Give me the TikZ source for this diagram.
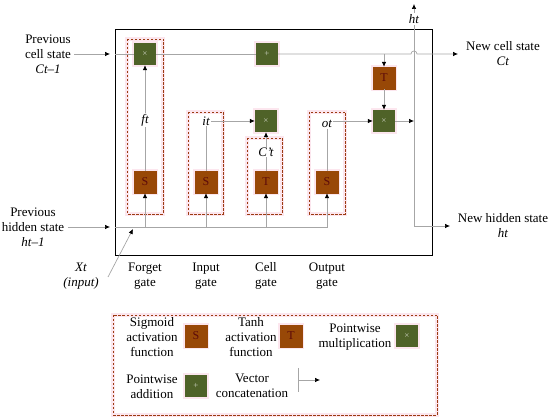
\documentclass[tikz,border=0pt]{standalone}
\usepackage{fontspec}
\setmainfont{Liberation Serif}
\usetikzlibrary{arrows.meta}
\definecolor{ogreen}{HTML}{4F6228}
\definecolor{obrown}{HTML}{984807}
\definecolor{dred}{HTML}{9C3B12}
\definecolor{maroon}{HTML}{5C0A0A}
\definecolor{lgray}{HTML}{A6A6A6}
\definecolor{halo}{HTML}{FCE6EE}
\tikzset{
 mul/.style={fill=ogreen,minimum size=22pt,inner sep=0pt,text=white!70!ogreen,font=\fontsize{9}{9}\selectfont,preaction={draw=halo,line width=4pt}},
 act/.style={fill=obrown,draw=obrown,minimum size=22pt,inner sep=0pt,text=maroon,font=\fontsize{12}{12}\selectfont,preaction={draw=halo,line width=4pt}},
 ln/.style={draw=lgray,line width=.7pt},
 arr/.style={ln,-{Latex[black,length=5pt,width=4.5pt]}},
 gate/.style={draw=dred,line width=.8pt,dash pattern=on 2.5pt off 1.5pt,preaction={draw=halo,solid,line width=3.5pt}},
 lbl/.style={align=center,font=\fontsize{13}{15}\selectfont},
 var/.style={fill=white,inner sep=1pt,font=\fontsize{13}{15}\selectfont\itshape}
}
\begin{document}
\begin{tikzpicture}[x=1pt,y=-1pt]
\useasboundingbox(0,0)rectangle(550,419);
% gate frames and cell
\draw[gate](127,39)rectangle(163,214) (188,112)rectangle(223,214) (247,138)rectangle(282,214) (309,112)rectangle(345,214);
\draw[line width=1pt](115,30)rectangle(432,256);
% points on the lines
\coordinate(cin)at(110,54);\coordinate(cl)at(115,54);\coordinate(jl)at(411,54);\coordinate(cout)at(458,54);\coordinate(tb)at(384,54);
\coordinate(hin)at(110,227);\coordinate(hl)at(115,227);\coordinate(hb)at(414,226);\coordinate(hm)at(414,121);\coordinate(htop)at(414,4);\coordinate(hout)at(450,226);
\coordinate(xs)at(108,277);\coordinate(xe)at(133,229);
% outer labels
\node[lbl](pcs)at(48,54){Previous\\cell state\\\textit{Ct–1}};
\node[lbl](phs)at(33,227){Previous\\hidden state\\\textit{ht–1}};
\node[lbl](xin)at(81,276){\textit{Xt}\\\textit{(input)}};
\node[lbl](ncs)at(503,54){New cell state\\\textit{Ct}};
\node[lbl](nhs)at(503,226){New hidden state\\\textit{ht}};
\foreach\x/\t/\n in{145/Forget/fg,206/Input/ig,266/Cell/cu,327/Output/og}{\node[lbl](\n)at(\x,276){\t\\\ifx\n cu update\else gate\fi};}
% operations
\node[mul](fx)at(145,54){×};\node[mul](pl)at(267,54){+};\node[mul](ix)at(266,121){×};\node[mul](ox)at(384,121){×};
\node[act](tc)at(384,78){T};
\node[act](fs)at(145,182){S};\node[act](is)at(206,182){S};\node[act](cs)at(266,182){T};\node[act](os)at(327,182){S};
% cell state
\draw[arr](pcs.east)--(cin);\draw[ln](cl)--(fx);\draw[ln](fx)--(pl);
\draw[arr](pl)--(jl)arc[start angle=180,end angle=360,radius=3]--(cout);
\draw[arr](tb)--(tc);\draw[arr](tc)--(ox);
% hidden state
\draw[arr](phs.east)--(hin);\draw[arr](hl)-|(os);
\foreach\n in{fs,is,cs}{\draw[arr](\n|-hl)--(\n);}
\draw[arr](xs)--(xe);
\draw[arr](fs)--(fx);\draw[arr](is)|-(ix);\draw[arr](cs)--(ix);\draw[arr](os)|-(ox);
\draw[arr](ox)--(hm);\draw[arr](hb)--(htop);\draw[arr](hb)--(hout);
\node[var](ft)at(145,120){ft};\node[var](it)at(206,121){it};\node[var](ct)at(266,152){C't};\node[var](ot)at(327,124){ot};\node[var](ht)at(414,19){ht};
% legend
\draw[gate](113,315)rectangle(437,415);
\node[lbl](lsig)at(152,337){Sigmoid\\activation\\function};\node[act](ls)at(196,336){S};
\node[lbl](ltanh)at(251,337){Tanh\\activation\\function};\node[act](lt)at(291,336){T};
\node[lbl](lmul)at(355,337){Pointwise\\multiplication};\node[mul](lx)at(407,336){×};
\node[lbl](ladd)at(152,387){Pointwise\\addition};\node[mul](lp)at(196,386){+};
\node[lbl](lcat)at(252,386){Vector\\concatenation};
\coordinate(cv1)at(298,368);\coordinate(cv2)at(298,392);\coordinate(cva)at(298,380);\coordinate(cvb)at(320,380);
\draw[ln](cv1)--(cv2);\draw[arr](cva)--(cvb);
\end{tikzpicture}
\end{document}
